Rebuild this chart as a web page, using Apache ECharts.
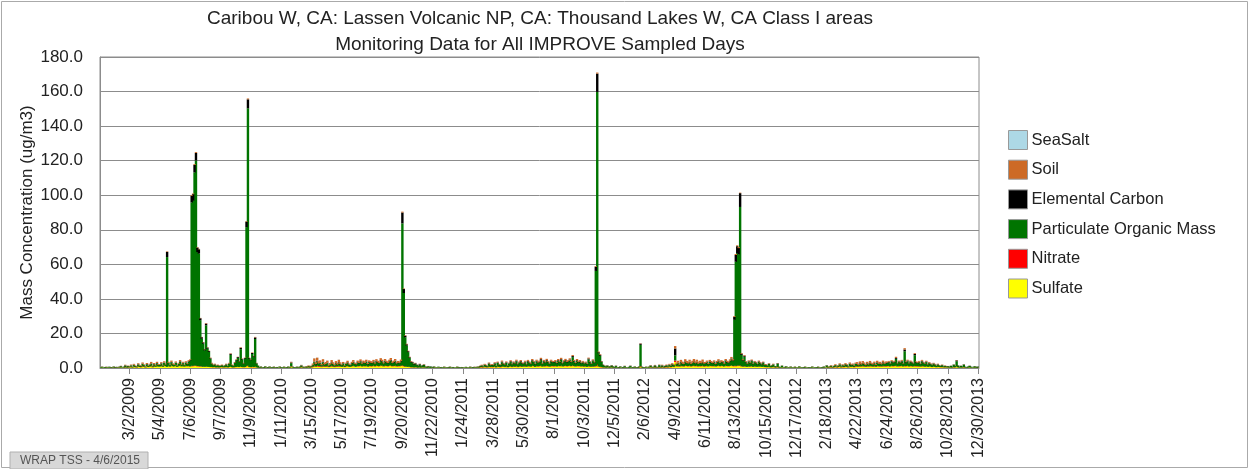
<!DOCTYPE html>
<html>
<head>
<meta charset="utf-8">
<script src="https://cdn.jsdelivr.net/npm/echarts@6/dist/echarts.min.js"></script>
<style>
  html, body { margin: 0; padding: 0; background: #fff; }
  #chart { width: 1250px; height: 469px; }
</style>
</head>
<body>
<div id="chart"></div>
<script>
// IMPROVE samples every third day, first one on 1/1/2009
const firstSample = Date.UTC(2009, 0, 1);

const tickLabels = ['3/2/2009', '5/4/2009', '7/6/2009', '9/7/2009', '11/9/2009', '1/11/2010',
    '3/15/2010', '5/17/2010', '7/19/2010', '9/20/2010', '11/22/2010', '1/24/2011', '3/28/2011',
    '5/30/2011', '8/1/2011', '10/3/2011', '12/5/2011', '2/6/2012', '4/9/2012', '6/11/2012',
    '8/13/2012', '10/15/2012', '12/17/2012', '2/18/2013', '4/22/2013', '6/24/2013', '8/26/2013',
    '10/28/2013', '12/30/2013'];

// one line per tick interval (first line = samples before 3/2/2009)
const sulfate = [
    0.1,0.2,0.1,0.1,0.2,0.1,0.2,0.1,0.1,0.2,0.1,0.2,0.1,0.2,0.3,0.1,0.2,0.3,0.2,0.3,
    0.3,0.5,0.2,0.6,0.4,0.3,0.7,0.5,0.4,0.8,0.6,0.3,0.9,0.5,0.7,1.0,0.4,0.8,0.6,1.1,0.7,
    0.8,1.0,0.6,1.2,0.9,0.6,1.1,0.7,1.3,0.9,0.8,1.2,0.6,1.0,1.4,0.8,1.1,0.7,1.2,0.9,1.0,
    0.8,1.0,1.0,1.1,1.2,0.9,0.9,0.8,0.7,0.7,0.6,0.8,0.6,0.6,0.5,0.5,0.4,0.5,0.3,0.4,0.3,
    0.4,0.5,0.3,0.4,0.5,0.3,0.5,0.6,0.4,0.3,0.5,0.5,0.6,0.5,0.7,0.5,0.4,0.5,0.9,1.2,0.5,
    0.4,0.5,0.4,0.7,0.3,0.2,0.1,0.2,0.1,0.1,0.2,0.1,0.1,0.2,0.1,0.1,0.2,0.1,0.1,0.1,0.2,
    0.1,0.1,0.2,0.1,0.1,0.2,0.1,0.6,0.2,0.1,0.1,0.2,0.1,0.2,0.4,0.2,0.1,0.2,0.2,0.3,0.2,
    0.3,0.5,0.9,0.6,1.0,0.7,0.8,0.5,0.9,0.6,0.7,0.8,0.5,0.6,0.9,0.7,0.5,0.8,0.6,0.9,0.7,
    0.6,0.9,0.5,0.8,1.0,0.7,0.6,0.9,1.1,0.8,0.7,1.0,0.9,1.2,0.8,1.0,0.9,1.1,0.7,1.0,0.9,
    0.9,1.1,0.8,1.2,1.0,0.9,1.3,1.1,0.8,1.2,1.0,0.9,1.1,1.3,0.9,1.0,1.2,0.8,1.0,0.9,1.1,
    1.2,0.9,0.7,0.6,0.6,0.5,0.4,0.4,0.3,0.4,0.3,0.2,0.3,0.2,0.3,0.3,0.2,0.1,0.2,0.1,0.2,
    0.1,0.2,0.1,0.1,0.2,0.1,0.1,0.1,0.2,0.1,0.1,0.1,0.2,0.1,0.1,0.1,0.1,0.2,0.1,0.1,0.1,
    0.1,0.1,0.2,0.1,0.1,0.2,0.1,0.1,0.2,0.1,0.2,0.2,0.3,0.4,0.3,0.5,0.4,0.3,0.6,0.4,0.5,
    0.4,0.6,0.3,0.7,0.5,0.4,0.8,0.6,0.5,0.7,0.4,0.6,0.8,0.5,0.7,0.6,0.9,0.5,0.7,0.8,0.6,
    0.7,0.9,0.6,1.0,0.8,0.7,1.1,0.9,0.6,1.0,0.8,0.9,1.2,0.7,1.0,0.8,1.1,0.9,0.7,1.0,0.9,
    0.9,1.0,0.8,1.1,0.9,1.2,0.8,1.0,1.1,0.9,1.0,1.2,0.9,1.3,1.0,0.8,1.1,0.9,1.0,0.8,0.9,
    0.7,0.8,0.6,0.9,0.7,0.6,0.8,0.7,0.9,1.5,0.6,0.5,0.4,0.3,0.3,0.2,0.3,0.2,0.2,0.3,0.2,
    0.1,0.2,0.1,0.1,0.2,0.1,0.1,0.2,0.1,0.1,0.1,0.2,0.1,0.1,0.2,0.1,0.1,0.2,0.6,0.2,0.1,
    0.1,0.2,0.1,0.2,0.3,0.1,0.2,0.3,0.2,0.1,0.3,0.2,0.4,0.2,0.3,0.4,0.3,0.5,0.4,0.6,0.5,
    3.5,0.8,1.0,0.7,1.1,0.9,0.8,1.2,1.0,0.9,1.1,0.8,1.0,1.2,0.9,1.1,0.8,1.0,0.9,1.1,0.8,
    0.9,1.1,0.8,1.2,1.0,0.9,1.1,0.8,1.0,1.2,0.9,1.1,1.0,0.8,1.2,1.0,0.9,1.1,1.3,1.0,1.0,
    1.0,1.1,1.1,1.3,0.8,0.7,0.8,0.7,0.6,0.8,0.7,0.9,0.6,0.8,0.7,0.6,0.8,0.7,0.6,0.7,0.5,
    0.5,0.4,0.6,0.3,0.4,0.5,0.3,0.3,0.4,0.2,0.2,0.3,0.1,0.2,0.2,0.1,0.1,0.2,0.1,0.1,0.2,
    0.1,0.1,0.2,0.1,0.1,0.1,0.2,0.1,0.1,0.1,0.1,0.2,0.1,0.1,0.1,0.2,0.1,0.1,0.1,0.2,0.1,
    0.3,0.2,0.3,0.4,0.2,0.3,0.5,0.3,0.4,0.6,0.3,0.5,0.4,0.6,0.5,0.3,0.7,0.5,0.6,0.4,0.7,
    0.8,0.6,0.9,0.7,1.0,0.8,0.6,0.9,0.7,1.0,0.8,0.7,0.9,0.6,1.0,0.8,0.9,0.7,1.0,0.8,0.9,
    0.9,1.0,0.8,1.1,0.9,1.0,1.2,0.8,1.0,0.9,1.1,0.8,1.0,0.9,1.1,0.8,1.0,0.9,0.8,1.0,0.9,
    0.8,0.9,0.7,1.0,0.8,0.7,0.9,0.6,0.8,0.7,0.5,0.7,0.6,0.4,0.6,0.5,0.4,0.5,0.3,0.4,0.3,
    0.3,0.2,0.3,0.2,0.4,0.3,0.7,0.3,0.2,0.3,0.2,0.4,0.2,0.1,0.2,0.3,0.2,0.1,0.2,0.2,0.1,
    0.2
];

const nitrate = [
    0.1,0.1,0.0,0.1,0.1,0.0,0.1,0.1,0.0,0.1,0.1,0.1,0.0,0.1,0.1,0.0,0.1,0.2,0.1,0.1,
    0.1,0.2,0.1,0.2,0.1,0.1,0.2,0.1,0.1,0.3,0.2,0.1,0.2,0.1,0.2,0.2,0.1,0.2,0.1,0.2,0.1,
    0.1,0.2,0.1,0.2,0.1,0.1,0.2,0.1,0.2,0.1,0.1,0.2,0.1,0.1,0.2,0.1,0.2,0.1,0.2,0.1,0.2,
    0.1,0.3,0.3,0.3,0.3,0.2,0.2,0.2,0.2,0.1,0.1,0.2,0.1,0.1,0.1,0.1,0.1,0.1,0.1,0.1,0.1,
    0.1,0.1,0.1,0.1,0.1,0.1,0.1,0.2,0.1,0.1,0.1,0.1,0.2,0.1,0.2,0.1,0.1,0.1,0.3,0.4,0.1,
    0.1,0.2,0.2,0.3,0.1,0.1,0.1,0.1,0.1,0.0,0.1,0.1,0.0,0.1,0.1,0.0,0.1,0.1,0.1,0.0,0.1,
    0.1,0.0,0.1,0.1,0.0,0.1,0.1,0.3,0.1,0.1,0.0,0.1,0.1,0.1,0.2,0.1,0.1,0.1,0.1,0.1,0.1,
    0.2,0.3,0.5,0.3,0.6,0.4,0.4,0.3,0.5,0.3,0.3,0.4,0.2,0.3,0.4,0.3,0.2,0.4,0.3,0.4,0.3,
    0.1,0.2,0.1,0.2,0.2,0.1,0.1,0.2,0.2,0.1,0.1,0.2,0.2,0.2,0.1,0.2,0.1,0.2,0.1,0.2,0.2,
    0.2,0.3,0.2,0.3,0.2,0.2,0.3,0.3,0.2,0.3,0.2,0.2,0.3,0.3,0.2,0.2,0.3,0.2,0.2,0.2,0.3,
    0.4,0.3,0.2,0.2,0.2,0.2,0.1,0.1,0.1,0.1,0.1,0.1,0.1,0.1,0.1,0.1,0.1,0.1,0.1,0.1,0.1,
    0.1,0.1,0.1,0.0,0.1,0.1,0.1,0.0,0.1,0.1,0.0,0.1,0.1,0.0,0.1,0.1,0.0,0.1,0.1,0.0,0.1,
    0.1,0.0,0.1,0.1,0.0,0.1,0.1,0.0,0.1,0.1,0.1,0.1,0.2,0.2,0.1,0.2,0.2,0.1,0.3,0.2,0.2,
    0.2,0.3,0.1,0.3,0.2,0.2,0.3,0.2,0.2,0.3,0.1,0.2,0.3,0.2,0.3,0.2,0.3,0.2,0.2,0.3,0.2,
    0.2,0.2,0.1,0.2,0.2,0.1,0.2,0.2,0.1,0.2,0.2,0.2,0.3,0.1,0.2,0.2,0.2,0.2,0.1,0.2,0.2,
    0.2,0.2,0.1,0.2,0.2,0.3,0.1,0.2,0.2,0.2,0.2,0.3,0.2,0.3,0.2,0.1,0.2,0.2,0.2,0.1,0.2,
    0.2,0.2,0.1,0.3,0.2,0.2,0.2,0.2,0.3,0.8,0.3,0.3,0.2,0.1,0.1,0.1,0.1,0.1,0.1,0.1,0.1,
    0.1,0.1,0.1,0.1,0.1,0.0,0.1,0.1,0.1,0.0,0.1,0.1,0.1,0.0,0.1,0.1,0.1,0.1,0.4,0.1,0.1,
    0.1,0.1,0.0,0.1,0.2,0.1,0.1,0.2,0.1,0.1,0.2,0.1,0.2,0.1,0.2,0.2,0.1,0.3,0.2,0.3,0.2,
    0.8,0.2,0.3,0.2,0.3,0.2,0.2,0.3,0.2,0.2,0.3,0.2,0.2,0.3,0.2,0.3,0.2,0.2,0.2,0.3,0.2,
    0.2,0.2,0.1,0.2,0.2,0.2,0.2,0.1,0.2,0.3,0.2,0.2,0.2,0.1,0.2,0.2,0.2,0.2,0.3,0.2,0.3,
    0.3,0.3,0.3,0.4,0.2,0.2,0.2,0.2,0.1,0.2,0.2,0.2,0.1,0.2,0.2,0.1,0.2,0.2,0.1,0.2,0.1,
    0.1,0.1,0.2,0.1,0.1,0.2,0.1,0.1,0.2,0.1,0.1,0.1,0.1,0.1,0.1,0.0,0.1,0.1,0.0,0.1,0.1,
    0.1,0.0,0.1,0.1,0.0,0.1,0.1,0.0,0.1,0.0,0.1,0.1,0.0,0.1,0.0,0.1,0.1,0.0,0.1,0.1,0.0,
    0.2,0.1,0.1,0.2,0.1,0.2,0.2,0.1,0.2,0.3,0.1,0.2,0.2,0.3,0.2,0.1,0.3,0.2,0.2,0.2,0.3,
    0.3,0.2,0.3,0.2,0.3,0.2,0.2,0.3,0.2,0.3,0.2,0.2,0.3,0.2,0.3,0.2,0.2,0.2,0.3,0.2,0.2,
    0.2,0.2,0.1,0.2,0.2,0.2,0.3,0.1,0.2,0.2,0.2,0.1,0.2,0.2,0.2,0.1,0.2,0.2,0.1,0.2,0.2,
    0.2,0.2,0.1,0.2,0.2,0.1,0.2,0.1,0.2,0.1,0.1,0.2,0.1,0.1,0.1,0.1,0.1,0.1,0.1,0.1,0.1,
    0.1,0.1,0.1,0.1,0.2,0.1,0.3,0.1,0.1,0.1,0.1,0.2,0.1,0.1,0.1,0.1,0.1,0.0,0.1,0.1,0.1,
    0.1
];

const organicMass = [
    0.2,0.4,0.2,0.3,0.3,0.2,0.4,0.2,0.3,0.5,0.2,0.3,0.2,0.4,0.6,0.2,0.4,0.9,0.5,0.7,
    0.4,0.8,0.3,0.9,0.6,0.4,1.1,0.7,0.5,1.2,0.8,0.4,1.0,0.6,0.9,1.3,0.5,1.1,0.7,1.4,0.9,
    0.9,1.4,0.7,1.6,1.0,63.5,1.5,0.8,1.8,1.1,0.9,1.6,0.7,1.2,2.0,1.0,1.5,0.8,1.7,1.2,2.4,
    3.5,94.5,95.5,111.8,118.6,66.0,65.1,26.7,16.1,13.3,9.5,23.7,10.5,8.6,4.8,1.8,1.1,1.4,0.8,1.1,0.8,
    0.7,1.0,0.6,1.0,1.4,0.7,1.8,6.8,1.1,0.9,2.3,3.7,5.0,2.9,10.0,4.3,2.0,4.8,80.3,148.7,4.8,
    4.0,7.4,5.7,15.8,2.2,1.0,0.3,0.5,0.2,0.3,0.6,0.2,0.3,0.5,0.2,0.3,0.4,0.2,0.3,0.2,0.5,
    0.2,0.3,0.4,0.2,0.3,0.5,0.3,1.9,0.4,0.3,0.2,0.4,0.3,0.5,0.8,0.4,0.3,0.5,0.4,0.7,0.5,
    0.5,0.9,2.0,1.2,2.2,1.4,1.6,0.8,1.9,1.0,1.3,1.6,0.7,1.0,1.7,1.2,0.8,1.5,1.0,1.8,1.2,
    0.9,1.5,0.7,1.3,1.8,1.1,0.9,1.6,2.0,1.4,1.2,1.9,1.6,2.3,1.4,1.9,1.7,2.2,1.3,2.0,1.8,
    1.6,2.1,1.4,2.3,1.9,1.7,2.6,2.2,1.5,2.4,1.9,1.6,2.2,2.7,1.7,2.0,2.4,1.5,1.8,1.7,2.3,
    82.1,42.2,16.9,12.2,8.4,5.1,2.9,2.5,1.6,2.0,1.3,0.9,1.6,0.7,1.1,1.4,0.5,0.4,0.7,0.4,0.5,
    0.3,0.5,0.2,0.2,0.4,0.2,0.3,0.2,0.4,0.2,0.2,0.3,0.4,0.2,0.3,0.2,0.2,0.4,0.3,0.2,0.3,
    0.2,0.2,0.3,0.2,0.2,0.4,0.2,0.3,0.3,0.2,0.4,0.4,0.6,0.8,0.5,1.1,0.8,0.6,1.5,0.9,1.0,
    1.0,1.6,0.7,1.9,1.2,1.0,2.2,1.5,1.2,2.0,0.9,1.6,2.4,1.3,2.0,1.6,2.6,1.3,2.0,2.5,1.7,
    1.6,2.2,1.3,2.5,1.9,1.6,2.8,2.2,1.4,2.6,1.9,2.3,3.1,1.6,2.5,2.0,2.9,2.2,1.6,2.6,2.2,
    2.1,2.5,1.8,2.8,2.2,3.2,1.7,2.4,2.9,2.1,2.5,3.0,2.2,4.7,2.6,1.8,2.8,2.1,2.5,1.8,2.2,
    1.6,1.9,1.4,3.8,2.4,1.5,3.0,2.1,55.0,157.5,7.6,6.3,2.9,1.3,0.9,0.6,0.9,0.5,0.6,1.0,0.6,
    0.3,0.8,0.2,0.3,0.6,0.2,0.3,0.7,0.2,0.2,0.4,0.8,0.2,0.3,0.5,0.2,0.3,0.5,12.4,0.4,0.3,
    0.2,0.4,0.2,0.4,0.8,0.2,0.4,0.9,0.4,0.2,1.1,0.4,0.8,0.4,0.6,0.9,0.5,1.0,0.7,1.2,0.9,
    3.0,1.2,1.6,1.0,1.8,1.4,1.2,2.0,1.6,1.4,1.9,1.2,1.7,2.1,1.5,1.9,1.3,1.7,1.5,2.0,1.4,
    1.6,2.0,1.3,2.2,1.8,1.6,2.1,1.3,1.9,2.4,1.7,2.2,1.9,1.4,2.6,2.0,1.8,2.5,3.4,2.8,26.6,
    60.2,65.1,64.4,91.5,6.6,3.2,5.5,2.4,1.7,2.6,1.9,2.9,1.5,2.4,2.0,1.4,2.5,1.8,1.3,2.1,1.2,
    1.2,0.9,1.5,0.7,1.0,1.3,0.6,0.5,1.8,0.4,0.3,0.9,0.2,0.3,0.6,0.2,0.2,0.5,0.2,0.2,0.4,
    0.2,0.2,0.6,0.2,0.2,0.3,0.4,0.2,0.2,0.3,0.2,0.5,0.2,0.2,0.3,0.4,0.2,0.2,0.3,0.5,0.2,
    0.9,0.3,0.5,0.7,0.3,0.6,0.9,0.4,0.7,1.1,0.5,0.9,0.7,1.2,0.9,0.5,1.4,0.9,1.1,0.7,1.3,
    1.2,0.8,1.4,1.0,1.5,1.2,0.8,1.4,1.0,1.6,1.2,1.0,1.5,0.9,1.7,1.3,1.5,1.1,1.8,1.3,1.6,
    1.8,2.1,1.5,2.4,1.9,2.2,3.8,1.6,2.3,1.8,2.5,1.5,8.5,2.0,2.6,1.6,2.3,1.9,1.6,6.2,2.0,
    1.8,2.2,1.4,2.6,1.9,1.5,2.3,1.2,1.8,1.4,1.0,1.6,1.2,0.7,1.3,0.9,0.6,1.0,0.5,0.7,0.5,
    0.6,0.4,0.8,0.4,1.2,0.7,2.9,0.9,0.4,0.8,0.5,1.3,0.4,0.3,0.5,0.8,0.4,0.2,0.5,0.6,0.3,
    0.4
];

const elementalCarbon = [
    0.1,0.1,0.0,0.1,0.1,0.0,0.1,0.1,0.0,0.1,0.1,0.1,0.0,0.1,0.1,0.0,0.1,0.2,0.1,0.1,
    0.1,0.1,0.1,0.2,0.1,0.1,0.2,0.1,0.1,0.2,0.1,0.1,0.2,0.1,0.2,0.2,0.1,0.2,0.1,0.2,0.1,
    0.1,0.2,0.1,0.2,0.1,3.0,0.2,0.1,0.2,0.1,0.1,0.2,0.1,0.2,0.3,0.1,0.2,0.1,0.2,0.2,0.3,
    0.3,3.8,3.8,4.3,4.4,2.6,2.5,1.1,0.8,0.7,0.6,1.0,0.6,0.5,0.3,0.2,0.1,0.2,0.1,0.1,0.1,
    0.1,0.1,0.1,0.1,0.2,0.1,0.2,0.6,0.1,0.1,0.3,0.4,0.5,0.3,0.8,0.4,0.2,0.4,3.2,5.2,0.4,
    0.3,0.6,0.5,0.9,0.2,0.1,0.1,0.1,0.0,0.1,0.1,0.0,0.1,0.1,0.0,0.1,0.1,0.0,0.1,0.0,0.1,
    0.1,0.0,0.1,0.0,0.1,0.1,0.0,0.4,0.1,0.0,0.1,0.1,0.0,0.1,0.2,0.1,0.0,0.1,0.1,0.1,0.1,
    0.1,0.2,0.3,0.2,0.4,0.2,0.3,0.1,0.3,0.2,0.2,0.3,0.1,0.2,0.3,0.2,0.1,0.2,0.2,0.3,0.2,
    0.1,0.2,0.1,0.2,0.3,0.2,0.1,0.2,0.3,0.2,0.2,0.3,0.2,0.3,0.2,0.3,0.2,0.3,0.2,0.3,0.3,
    0.2,0.3,0.2,0.3,0.3,0.2,0.4,0.3,0.2,0.3,0.3,0.2,0.3,0.4,0.2,0.3,0.3,0.2,0.3,0.2,0.3,
    6.3,2.3,0.9,0.7,0.5,0.4,0.3,0.4,0.3,0.3,0.2,0.2,0.3,0.1,0.2,0.2,0.1,0.1,0.1,0.1,0.1,
    0.1,0.1,0.0,0.0,0.1,0.0,0.1,0.0,0.1,0.0,0.0,0.1,0.1,0.0,0.1,0.0,0.0,0.1,0.1,0.0,0.1,
    0.0,0.0,0.1,0.0,0.0,0.1,0.0,0.1,0.1,0.0,0.1,0.1,0.1,0.2,0.1,0.2,0.2,0.1,0.3,0.2,0.2,
    0.2,0.3,0.1,0.3,0.2,0.2,0.4,0.3,0.2,0.3,0.1,0.3,0.4,0.2,0.3,0.3,0.4,0.2,0.3,0.4,0.3,
    0.2,0.3,0.2,0.4,0.3,0.2,0.4,0.3,0.2,0.4,0.3,0.3,0.5,0.2,0.4,0.3,0.4,0.3,0.2,0.4,0.3,
    0.3,0.3,0.2,0.4,0.3,0.4,0.2,0.3,0.4,0.3,0.3,0.4,0.3,0.6,0.3,0.2,0.4,0.3,0.3,0.2,0.3,
    0.2,0.3,0.2,0.5,0.3,0.2,0.4,0.3,2.4,10.6,0.6,0.5,0.3,0.2,0.1,0.1,0.2,0.1,0.1,0.2,0.1,
    0.1,0.2,0.0,0.1,0.1,0.0,0.1,0.2,0.0,0.0,0.1,0.2,0.0,0.1,0.1,0.0,0.1,0.1,0.7,0.1,0.1,
    0.0,0.1,0.0,0.1,0.2,0.0,0.1,0.2,0.1,0.0,0.2,0.1,0.2,0.1,0.1,0.2,0.1,0.2,0.1,0.2,0.2,
    4.0,0.2,0.2,0.1,0.3,0.2,0.2,0.3,0.2,0.2,0.3,0.2,0.2,0.3,0.2,0.3,0.2,0.2,0.2,0.3,0.2,
    0.2,0.3,0.2,0.3,0.3,0.2,0.3,0.2,0.3,0.4,0.2,0.3,0.3,0.2,0.4,0.3,0.3,0.4,0.5,0.4,1.6,
    3.9,4.0,3.6,8.0,0.7,0.4,0.6,0.3,0.2,0.3,0.3,0.4,0.2,0.3,0.3,0.2,0.3,0.3,0.2,0.3,0.2,
    0.2,0.1,0.2,0.1,0.1,0.2,0.1,0.1,0.3,0.1,0.0,0.1,0.0,0.1,0.1,0.0,0.0,0.1,0.0,0.0,0.1,
    0.0,0.0,0.1,0.0,0.0,0.1,0.1,0.0,0.0,0.1,0.0,0.1,0.0,0.0,0.1,0.1,0.0,0.0,0.1,0.1,0.0,
    0.2,0.0,0.1,0.1,0.0,0.1,0.2,0.1,0.1,0.2,0.1,0.2,0.1,0.2,0.2,0.1,0.2,0.2,0.2,0.1,0.2,
    0.2,0.1,0.2,0.2,0.2,0.2,0.1,0.2,0.2,0.3,0.2,0.2,0.2,0.1,0.3,0.2,0.2,0.2,0.3,0.2,0.3,
    0.3,0.3,0.2,0.3,0.3,0.3,0.5,0.2,0.3,0.3,0.4,0.2,1.0,0.3,0.4,0.2,0.3,0.3,0.2,0.7,0.3,
    0.3,0.3,0.2,0.4,0.3,0.2,0.3,0.2,0.3,0.2,0.1,0.2,0.2,0.1,0.2,0.1,0.1,0.2,0.1,0.1,0.1,
    0.1,0.1,0.1,0.1,0.2,0.1,0.5,0.2,0.1,0.1,0.1,0.2,0.1,0.0,0.1,0.1,0.1,0.0,0.1,0.1,0.1,
    0.1
];

const soil = [
    0.0,0.1,0.0,0.0,0.1,0.0,0.0,0.0,0.1,0.1,0.0,0.0,0.1,0.1,0.2,0.0,0.1,0.3,0.1,0.2,
    0.2,0.4,0.1,0.5,0.3,0.2,0.6,0.4,0.3,0.7,0.4,0.2,0.6,0.3,0.5,0.8,0.3,0.6,0.4,0.7,0.5,
    0.4,0.6,0.3,0.7,0.4,0.3,0.6,0.3,0.8,0.5,0.4,0.6,0.3,0.5,0.7,0.4,0.6,0.3,0.6,0.4,0.6,
    0.3,0.4,0.4,0.5,0.5,0.3,0.3,0.2,0.2,0.2,0.2,0.3,0.2,0.2,0.3,0.4,0.3,0.3,0.2,0.3,0.2,
    0.2,0.3,0.1,0.2,0.3,0.2,0.4,0.3,0.3,0.2,0.3,0.3,0.2,0.2,0.3,0.2,0.3,0.2,0.3,0.5,0.2,
    0.2,0.3,0.2,0.3,0.2,0.1,0.0,0.1,0.0,0.0,0.1,0.0,0.0,0.1,0.0,0.0,0.1,0.0,0.0,0.0,0.1,
    0.0,0.0,0.1,0.0,0.0,0.1,0.0,0.4,0.1,0.0,0.0,0.1,0.0,0.1,0.2,0.1,0.1,0.2,0.2,0.3,0.2,
    0.3,0.7,1.9,1.0,1.8,1.2,1.3,0.6,1.5,0.8,1.0,1.2,0.5,0.8,1.3,0.9,0.6,1.1,0.8,1.4,0.9,
    0.4,0.7,0.3,0.6,0.9,0.5,0.4,0.7,1.0,0.6,0.5,0.9,0.7,1.0,0.6,0.9,0.8,1.0,0.6,0.9,0.8,
    0.7,0.9,0.6,1.0,0.8,0.7,1.1,0.9,0.6,1.0,0.8,0.7,0.9,1.1,0.7,0.8,1.0,0.6,0.8,0.7,0.9,
    0.5,0.3,0.3,0.3,0.3,0.3,0.3,0.2,0.2,0.2,0.1,0.1,0.2,0.1,0.1,0.2,0.1,0.1,0.1,0.0,0.0,
    0.0,0.1,0.0,0.0,0.0,0.0,0.0,0.0,0.1,0.0,0.0,0.0,0.1,0.0,0.0,0.0,0.0,0.1,0.0,0.0,0.0,
    0.0,0.0,0.0,0.0,0.0,0.1,0.0,0.0,0.1,0.0,0.1,0.1,0.2,0.3,0.2,0.4,0.3,0.2,0.5,0.3,0.4,
    0.3,0.5,0.2,0.5,0.3,0.3,0.6,0.4,0.3,0.5,0.2,0.4,0.6,0.3,0.5,0.4,0.6,0.3,0.5,0.6,0.4,
    0.4,0.6,0.3,0.6,0.5,0.4,0.7,0.5,0.3,0.6,0.5,0.6,0.8,0.4,0.6,0.5,0.7,0.5,0.4,0.6,0.5,
    0.5,0.6,0.4,0.7,0.5,0.8,0.4,0.6,0.7,0.5,0.6,0.7,0.5,0.6,0.6,0.4,0.7,0.5,0.6,0.4,0.5,
    0.4,0.5,0.3,0.5,0.4,0.3,0.6,0.4,0.4,0.6,0.4,0.4,0.2,0.1,0.1,0.1,0.1,0.1,0.1,0.1,0.1,
    0.0,0.1,0.0,0.0,0.1,0.0,0.0,0.1,0.0,0.0,0.0,0.1,0.0,0.0,0.1,0.0,0.0,0.1,0.2,0.0,0.0,
    0.0,0.1,0.0,0.1,0.2,0.0,0.1,0.2,0.1,0.0,0.2,0.1,0.3,0.1,0.2,0.3,0.2,0.4,0.3,0.5,0.4,
    1.4,0.8,1.1,0.7,1.2,1.0,0.8,1.3,1.1,0.9,1.2,0.8,1.1,1.3,1.0,1.2,0.8,1.1,1.0,1.2,0.9,
    0.6,0.7,0.5,0.8,0.7,0.6,0.7,0.5,0.7,0.8,0.6,0.7,0.7,0.5,0.8,0.7,0.6,0.8,0.9,0.7,0.5,
    0.6,0.5,0.6,0.3,0.4,0.5,0.4,0.4,0.4,0.5,0.4,0.5,0.3,0.4,0.4,0.3,0.5,0.4,0.3,0.4,0.3,
    0.3,0.2,0.3,0.1,0.2,0.3,0.1,0.1,0.2,0.1,0.0,0.1,0.0,0.0,0.1,0.0,0.0,0.1,0.0,0.0,0.1,
    0.0,0.0,0.1,0.0,0.0,0.0,0.1,0.0,0.0,0.0,0.0,0.1,0.0,0.0,0.0,0.1,0.0,0.0,0.0,0.1,0.0,
    0.1,0.1,0.2,0.3,0.1,0.2,0.4,0.2,0.3,0.5,0.2,0.4,0.3,0.5,0.4,0.2,0.6,0.4,0.5,0.3,0.6,
    0.9,0.6,1.0,0.7,1.0,0.8,0.5,0.8,0.6,0.9,0.7,0.6,0.8,0.5,0.9,0.7,0.8,0.6,0.9,0.7,0.8,
    0.4,0.5,0.3,0.5,0.4,0.5,0.7,0.3,0.5,0.4,0.5,0.3,0.8,0.4,0.5,0.3,0.5,0.4,0.3,0.5,0.4,
    0.4,0.5,0.3,0.5,0.4,0.3,0.5,0.3,0.4,0.3,0.2,0.3,0.3,0.2,0.3,0.2,0.1,0.2,0.1,0.2,0.1,
    0.1,0.0,0.1,0.0,0.1,0.1,0.2,0.1,0.0,0.1,0.0,0.1,0.0,0.0,0.0,0.1,0.0,0.0,0.0,0.1,0.0,
    0.0
];

const seaSalt = [
    0,0,0,0,0,0,0,0,0,0,0,0,0,0,0.1,0,0,0,0,0,
    0,0,0,0,0,0,0.1,0,0,0,0,0,0,0,0,0.1,0,0,0,0,0,
    0,0,0,0,0,0,0,0,0.1,0,0,0,0,0,0,0,0,0,0,0,0,
    0,0,0,0,0,0,0,0,0,0,0,0,0,0,0,0,0,0,0,0,0,
    0,0,0,0,0,0,0,0,0,0,0,0,0,0,0,0,0,0,0,0,0,
    0,0,0,0,0,0,0,0,0,0,0,0,0,0,0,0,0,0,0,0,0,
    0,0,0,0,0,0,0,0.1,0,0,0,0,0,0,0.1,0,0,0,0,0,0,
    0,0,0.1,0,0.1,0,0,0,0,0,0,0.1,0,0,0,0,0,0,0,0.1,0,
    0,0,0,0,0,0,0,0,0,0,0,0,0,0,0,0,0,0,0,0,0,
    0,0,0,0,0,0,0,0,0,0,0,0,0,0,0,0,0,0,0,0,0,
    0,0,0,0,0,0,0,0,0,0,0,0,0,0,0,0,0,0,0,0,0,
    0,0,0,0,0,0,0,0,0,0,0,0,0,0,0,0,0,0,0,0,0,
    0,0,0,0,0,0,0,0,0,0,0,0,0,0,0,0,0,0,0.1,0,0,
    0,0,0,0,0,0,0,0,0,0,0,0,0,0,0,0,0,0,0,0,0,
    0,0,0,0,0,0,0,0,0,0,0,0,0,0,0,0,0,0,0,0,0,
    0,0,0,0,0,0,0,0,0,0,0,0,0,0,0,0,0,0,0,0,0,
    0,0,0,0,0,0,0,0,0,0,0,0,0,0,0,0,0,0,0,0,0,
    0,0,0,0,0,0,0,0,0,0,0,0,0,0,0,0,0,0,0,0,0,
    0,0,0,0,0,0,0,0,0,0,0,0,0,0,0,0,0,0,0,0,0,
    0,0,0,0,0.1,0,0,0,0,0,0,0,0,0,0,0,0,0,0,0,0,
    0,0,0,0,0,0,0,0,0,0,0,0,0,0,0,0,0,0,0,0,0,
    0,0,0,0,0,0,0,0,0,0,0,0,0,0,0,0,0,0,0,0,0,
    0,0,0,0,0,0,0,0,0,0,0,0,0,0,0,0,0,0,0,0,0,
    0,0,0,0,0,0,0,0,0,0,0,0,0,0,0,0,0,0,0,0,0,
    0,0,0,0,0,0,0,0,0,0,0,0,0,0,0,0,0,0,0,0,0,
    0,0,0,0,0,0,0,0,0,0,0,0,0,0,0,0,0,0,0,0,0,
    0,0,0,0,0,0,0,0,0,0,0,0,0,0,0,0,0,0,0,0,0,
    0,0,0,0,0,0,0,0,0,0,0,0,0,0,0,0,0,0,0,0,0,
    0,0,0,0,0,0,0,0,0,0,0,0,0,0,0,0,0,0,0,0,0,
    0
];

const sampleCount = sulfate.length;
[nitrate, organicMass, elementalCarbon, soil, seaSalt].forEach(function (arr, k) {
    if (arr.length !== sampleCount) {
        throw new Error('series ' + k + ' has ' + arr.length + ' values, expected ' + sampleCount);
    }
});

const sampleDates = [];
for (let i = 0; i < sampleCount; i++) {
    const d = new Date(firstSample + i * 3 * 86400000);
    sampleDates.push((d.getUTCMonth() + 1) + '/' + d.getUTCDate() + '/' + d.getUTCFullYear());
}

const font = '"Liberation Sans", Arial, sans-serif';
const showTick = (index, value) => tickLabels.indexOf(value) !== -1;

// stacked bottom to top, legend lists them top to bottom
const layers = [
    {name: 'Sulfate', data: sulfate, color: '#ffff00'},
    {name: 'Nitrate', data: nitrate, color: '#ff0000'},
    {name: 'Particulate Organic Mass', data: organicMass, color: '#007400'},
    {name: 'Elemental Carbon', data: elementalCarbon, color: '#000000'},
    {name: 'Soil', data: soil, color: '#cd6a26'},
    {name: 'SeaSalt', data: seaSalt, color: '#add8e6'}
];

const chart = echarts.init(document.getElementById('chart'));

chart.setOption({
    animation: false,
    backgroundColor: '#ffffff',
    title: {
        text: 'Caribou W, CA: Lassen Volcanic NP, CA: Thousand Lakes W, CA Class I areas\nMonitoring Data for All IMPROVE Sampled Days',
        left: 540,
        top: 6,
        textAlign: 'center',
        padding: 0,
        textStyle: {fontFamily: font, fontSize: 19, fontWeight: 'normal', color: '#222', lineHeight: 26}
    },
    legend: {
        orient: 'vertical',
        left: 1008,
        top: 130,
        padding: 0,
        itemWidth: 19,
        itemHeight: 19,
        itemGap: 9.7,
        icon: 'rect',
        itemStyle: {borderColor: '#999', borderWidth: 1},
        textStyle: {fontFamily: font, fontSize: 16.5, color: '#222', lineHeight: 19, padding: [0, 0, 0, -1]},
        data: ['SeaSalt', 'Soil', 'Elemental Carbon', 'Particulate Organic Mass', 'Nitrate', 'Sulfate']
    },
    grid: {
        left: 100,
        right: 271,
        top: 57,
        bottom: 101,
        show: true,
        borderColor: '#8c8c8c',
        borderWidth: 1
    },
    xAxis: {
        type: 'category',
        data: sampleDates,
        boundaryGap: true,
        axisLine: {lineStyle: {color: '#888'}},
        axisTick: {show: true, interval: showTick, alignWithLabel: true, length: 6, lineStyle: {color: '#888'}},
        axisLabel: {interval: showTick, rotate: 90, margin: 10, fontFamily: font, fontSize: 16, color: '#222'},
        splitLine: {show: false}
    },
    yAxis: {
        type: 'value',
        min: 0,
        max: 180,
        interval: 20,
        name: 'Mass Concentration (ug/m3)',
        nameLocation: 'middle',
        nameGap: 64,
        nameMoveOverlap: false,
        nameTextStyle: {fontFamily: font, fontSize: 17, color: '#222'},
        axisLine: {show: true, lineStyle: {color: '#8c8c8c'}},
        axisTick: {show: false},
        axisLabel: {margin: 17, fontFamily: font, fontSize: 17, color: '#222', formatter: v => v.toFixed(1)},
        splitLine: {lineStyle: {color: '#8c8c8c', width: 1}}
    },
    series: layers.map(l => ({
        name: l.name,
        type: 'bar',
        stack: 'total',
        data: l.data,
        barWidth: 2.4,
        itemStyle: {color: l.color},
        emphasis: {disabled: true}
    })),
    graphic: [
        {
            type: 'rect',
            shape: {x: 1.5, y: 1.5, width: 1246, height: 466},
            style: {fill: 'none', stroke: '#aaa', lineWidth: 1},
            silent: true
        },
        {
            type: 'rect',
            shape: {x: 10, y: 452, width: 138, height: 17},
            style: {fill: '#d8d8d8', stroke: '#b0b0b0', lineWidth: 1},
            silent: true
        },
        {
            type: 'text',
            x: 20,
            y: 461,
            style: {text: 'WRAP TSS - 4/6/2015', fill: '#555', font: '12px ' + font, verticalAlign: 'middle'},
            silent: true
        }
    ]
});
</script>
</body>
</html>
